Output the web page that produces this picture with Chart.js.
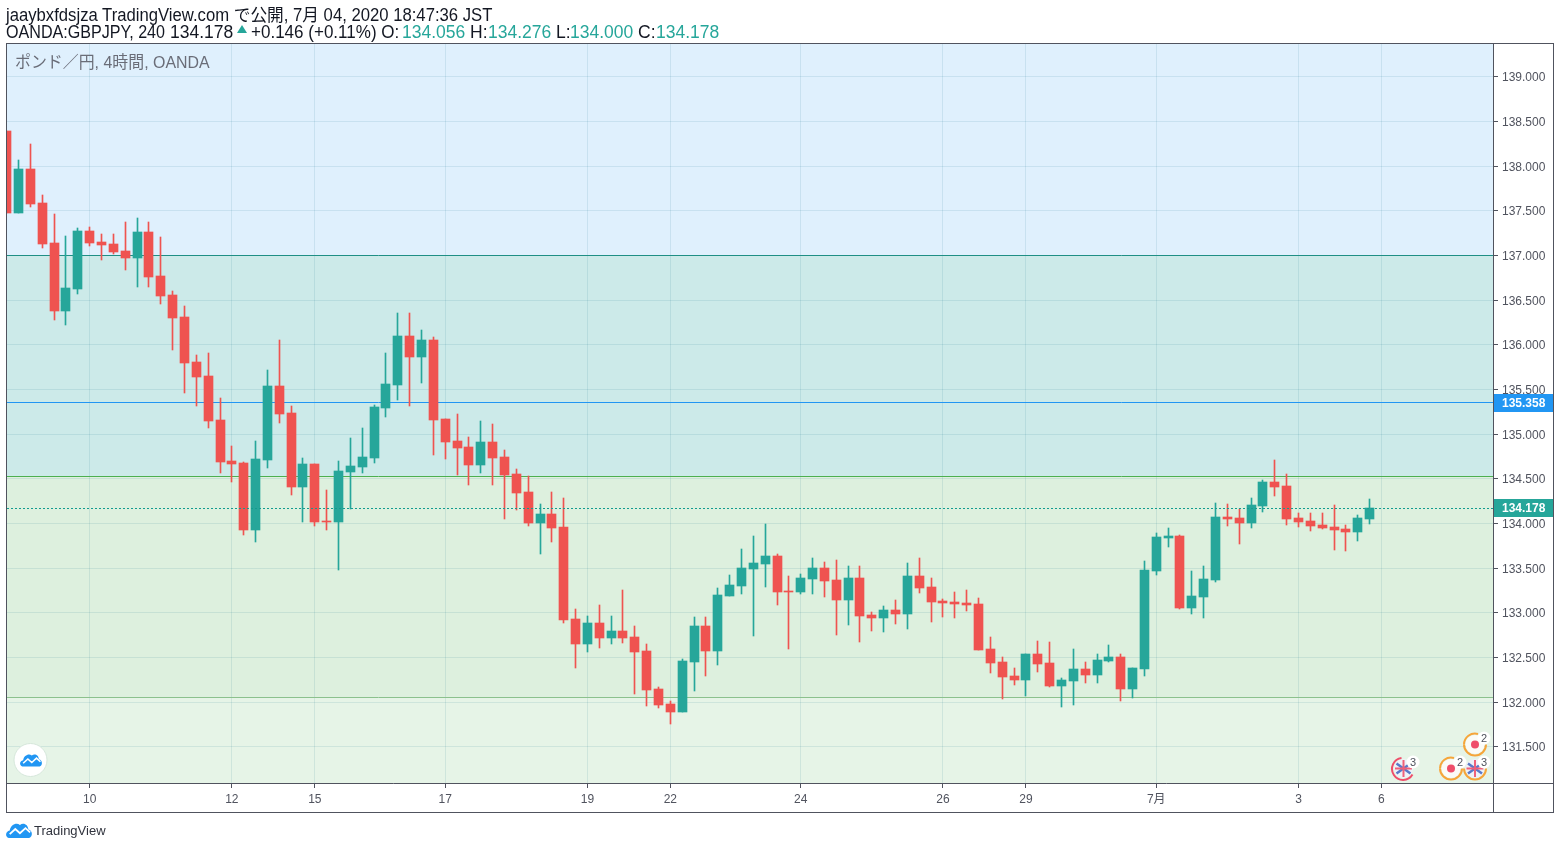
<!DOCTYPE html>
<html lang="ja">
<head>
<meta charset="utf-8">
<title>GBPJPY</title>
<script src="https://cdn.jsdelivr.net/npm/chart.js@4"></script>
<style>
html,body{margin:0;padding:0;background:#fff;overflow:hidden}
#wrap{position:relative;width:1560px;height:849px;overflow:hidden}
canvas{position:absolute;left:0;top:0}
.t{position:absolute;white-space:nowrap;font-family:"Liberation Sans","Noto Sans CJK JP",sans-serif;font-size:17.5px;line-height:18px;color:#131722;transform-origin:0 50%}
.g{color:#26a69a}
svg{position:absolute;left:0;top:0;pointer-events:none}
</style>
</head>
<body>
<div id="wrap">
<canvas id="c" width="1560" height="849"></canvas>
<div class="t" style="left:6px;top:6px;transform:scaleX(0.953)">jaaybxfdsjza TradingView.com で公開, 7月 04, 2020 18:47:36 JST</div>
<div class="t" style="left:6px;top:23px;transform:scaleX(0.92)">OANDA:GBPJPY, 240</div>
<div class="t" style="left:170px;top:23px">134.178</div>
<div class="t" style="left:251px;top:23px;transform:scaleX(0.973)">+0.146 (+0.11%) O:</div>
<div class="t g" style="left:402px;top:23px">134.056</div>
<div class="t" style="left:470px;top:23px">H:</div>
<div class="t g" style="left:488px;top:23px">134.276</div>
<div class="t" style="left:556px;top:23px">L:</div>
<div class="t g" style="left:570px;top:23px">134.000</div>
<div class="t" style="left:638px;top:23px">C:</div>
<div class="t g" style="left:656px;top:23px">134.178</div>
<div class="t" style="left:15px;top:53px;color:#6a6d78;font-size:16.5px;transform:scaleX(0.965)">ポンド／円, 4時間, OANDA</div>
<div class="t" style="left:34px;top:822px;font-size:13px;color:#30333d">TradingView</div>
<svg width="1560" height="849" viewBox="0 0 1560 849" xmlns="http://www.w3.org/2000/svg">
  <defs>
    <symbol id="cloud" viewBox="0 0 28 17" overflow="visible">
      <path d="M3 17 C-1 16 -1 10 4 9 C5 3 11 0 15 3 C19 0 24 3 24 8 C29 9 29 16 25 17 Z" fill="#2196f3"/>
      <path d="M4 13 L10 7.5 L15 12 L21 6.5 L26 11" fill="none" stroke="#fff" stroke-width="2"/>
    </symbol>
    <clipPath id="plotClip"><rect x="7" y="44" width="1486" height="739"/></clipPath>
    <g id="uk">
      <circle r="9.5" fill="#eef1f8"/>
      <path d="M-7 -5 L7 5 M-7 5 L7 -5" stroke="#5a78c8" stroke-width="2.5"/>
      <path d="M-8.5 0 H8.5 M0 -8.5 V8.5" stroke="#f0607a" stroke-width="2"/>
    </g>
    <g id="dot">
      <circle r="9.5" fill="#fbfbf7"/>
      <circle r="4" fill="#ef4d6a"/>
    </g>
  </defs>
  <polygon points="237,33 247,33 242,25" fill="#26a69a"/>
  <circle cx="30.5" cy="760" r="16.5" fill="#fff" stroke="#d5e6da"/>
  <use href="#cloud" x="20" y="753" width="22" height="13.5"/>
  <use href="#cloud" x="6" y="822" width="26" height="16"/>
  <g clip-path="url(#plotClip)">
    <g transform="translate(1403.5,768.5)"><use href="#uk"/><path d="M-2 -10.5 A11 11 0 1 0 9 6" fill="none" stroke="#ef4d6a" stroke-width="2"/></g>
    <g transform="translate(1451,768.5)"><use href="#dot"/><path d="M-11 0 A11 11 0 0 0 11 0" fill="none" stroke="#f6a53a" stroke-width="2"/><path d="M-11 0 A11 11 0 0 1 3 -10.5" fill="none" stroke="#f6a53a" stroke-width="2"/></g>
    <g transform="translate(1475,768.5)"><use href="#uk"/><path d="M-11 0 A11 11 0 0 0 11 0" fill="none" stroke="#f6a53a" stroke-width="2"/></g>
    <g transform="translate(1475,744.5)"><use href="#dot"/><path d="M-11 0 A11 11 0 0 0 11 0" fill="none" stroke="#f6a53a" stroke-width="2"/><path d="M-11 0 A11 11 0 0 1 3 -10.5" fill="none" stroke="#f6a53a" stroke-width="2"/></g>
    <g font-family="Liberation Sans" font-size="11" fill="#50535e" text-anchor="middle">
      <circle cx="1413" cy="762" r="6.5" fill="#fff"/><text x="1413" y="766">3</text>
      <circle cx="1460" cy="762" r="6.5" fill="#fff"/><text x="1460" y="766">2</text>
      <circle cx="1484" cy="762" r="6.5" fill="#fff"/><text x="1484" y="766">3</text>
      <circle cx="1484" cy="738" r="6.5" fill="#fff"/><text x="1484" y="742">2</text>
    </g>
  </g>
</svg>
</div>
<script>
const opens=[138.396,137.478,137.970,137.590,137.142,136.381,136.627,137.276,137.153,137.131,137.052,136.974,137.265,136.772,136.560,136.318,135.813,135.656,135.163,134.703,134.680,133.929,134.714,135.544,135.241,134.411,134.669,134.030,134.019,134.579,134.636,134.736,135.297,135.555,136.105,135.869,136.060,135.174,134.927,134.860,134.658,134.916,134.748,134.557,134.355,134.007,134.108,133.959,132.929,132.649,132.884,132.716,132.795,132.728,132.571,132.146,131.978,131.888,132.448,132.851,132.571,133.187,133.299,133.489,133.545,133.634,133.242,133.231,133.377,133.500,133.366,133.142,133.388,132.974,132.940,133.030,132.985,133.410,133.287,133.131,133.119,133.108,133.097,132.593,132.448,132.291,132.246,132.537,132.437,132.179,132.235,132.369,132.302,132.459,132.504,132.146,132.369,133.466,133.836,133.858,133.052,133.175,133.366,134.071,134.060,134.004,134.194,134.463,134.418,134.060,134.026,133.981,133.959,133.937,133.903,134.056];
const highs=[138.396,138.071,138.250,137.679,137.466,137.220,137.310,137.321,137.243,137.243,137.377,137.422,137.377,137.209,136.604,136.437,135.892,135.914,135.409,134.871,134.692,134.927,135.723,136.060,135.320,134.736,134.669,134.378,134.703,134.961,135.073,135.331,135.914,136.363,136.352,136.172,136.093,135.174,135.230,134.972,135.151,135.118,134.826,134.613,134.535,134.220,134.355,134.288,133.041,132.963,133.086,132.963,133.254,132.851,132.649,132.168,132.011,132.481,132.951,132.951,133.276,133.422,133.713,133.858,133.993,133.657,133.410,133.433,133.612,133.567,133.590,133.522,133.522,133.007,133.075,133.142,133.556,133.612,133.388,133.153,133.231,133.254,133.164,132.728,132.504,132.381,132.537,132.683,132.672,132.269,132.593,132.448,132.537,132.638,132.537,132.381,133.578,133.892,133.948,133.869,133.466,133.522,134.228,134.216,134.160,134.284,134.485,134.709,134.552,134.116,134.116,134.116,134.205,133.981,134.093,134.276];
const lows=[137.478,137.478,137.545,137.086,136.280,136.224,136.571,137.108,136.951,137.019,136.840,136.649,136.649,136.459,135.948,135.465,135.320,135.073,134.568,134.467,133.873,133.794,134.624,135.129,134.321,134.019,133.974,133.929,133.480,134.164,134.568,134.680,135.196,135.387,135.320,135.578,134.770,134.725,134.546,134.434,134.568,134.434,134.052,134.153,133.974,133.657,133.791,132.884,132.381,132.560,132.604,132.649,132.660,132.090,131.955,131.933,131.754,131.888,132.123,132.291,132.414,133.187,133.209,132.739,133.287,133.086,132.593,133.209,133.209,133.175,132.750,132.862,132.672,132.795,132.784,132.873,132.817,133.220,132.896,132.951,132.940,133.019,132.582,132.325,132.034,132.190,132.067,132.336,132.168,131.944,131.966,132.213,132.213,132.448,132.011,132.045,132.291,133.422,133.735,133.041,132.985,132.940,133.343,133.970,133.769,133.948,134.127,134.306,133.981,133.959,133.914,133.937,133.701,133.690,133.802,134.000];
const closes=[137.478,137.970,137.578,137.130,136.381,136.638,137.276,137.142,137.119,137.041,136.974,137.265,136.761,136.549,136.307,135.802,135.645,135.151,134.692,134.669,133.929,134.725,135.544,135.230,134.411,134.669,134.019,134.019,134.591,134.647,134.748,135.308,135.566,136.105,135.869,136.060,135.163,134.916,134.849,134.658,134.916,134.736,134.546,134.344,134.007,134.108,133.952,132.918,132.649,132.884,132.716,132.795,132.716,132.560,132.134,131.966,131.888,132.459,132.851,132.571,133.198,133.310,133.500,133.556,133.634,133.231,133.231,133.388,133.500,133.354,133.142,133.388,132.963,132.940,133.030,132.985,133.410,133.276,133.119,133.108,133.097,133.086,132.582,132.437,132.280,132.246,132.537,132.425,132.179,132.246,132.369,132.302,132.470,132.504,132.146,132.381,133.478,133.847,133.858,133.052,133.187,133.377,134.071,134.049,134.004,134.205,134.463,134.407,134.049,134.015,133.970,133.948,133.925,133.903,134.060,134.178];
const xTickIndex=[7,19,26,37,49,56,67,79,86,97,109,116];
const xTickLabels=["10","12","15","17","19","22","24","26","29","7月","3","6"];
const yTickValues=[131.5,132,132.5,133,133.5,134,134.5,135,135.5,136,136.5,137,137.5,138,138.5,139];
const lineResistance=137.0;
const lineBlue=135.358;
const lineGreen=134.531;
const lineSupport=132.055;
const lastClose=134.178;

const UP='#26a69a',DOWN='#ef5350';
const FONT='"Liberation Sans","Noto Sans CJK JP",sans-serif';
const XMIN=0.025,XMAX=125.414;
const hline=(v,color,order,dash)=>({type:'line',order,data:[{x:XMIN,y:v},{x:XMAX,y:v}],borderColor:color,borderWidth:1,borderDash:dash||[],pointRadius:0,fill:false,tension:0});
const candleColors=opens.map((o,i)=>closes[i]>=o?UP:DOWN);

const pricePlugin={
  id:'tv',
  afterDatasetsUpdate(chart){
    chart.data.datasets.forEach((d,di)=>{
      const meta=chart.getDatasetMeta(di);
      if(d.type==='line'){
        meta.data.forEach(el=>{el.y=Math.floor(el.y+0.35)+0.5;});
        return;
      }
      meta.data.forEach(el=>{
        el.x=Math.floor(el.x)+0.5;
        let y=Math.round(el.y),b=Math.round(el.base);
        if(y===b)b=y+1;
        el.y=y;el.base=b;
      });
    });
  },
  beforeDraw(chart){
    const {ctx,chartArea:a,scales:{y}}=chart;
    const stops=[[a.top,y.getPixelForValue(lineResistance),'#dff0fd'],
      [y.getPixelForValue(lineResistance),y.getPixelForValue(lineGreen),'#cceae9'],
      [y.getPixelForValue(lineGreen),y.getPixelForValue(lineSupport),'#ddf0de'],
      [y.getPixelForValue(lineSupport),a.bottom,'#e6f4e7']];
    ctx.save();
    stops.forEach(s=>{
      const t=Math.floor(s[0]),b=Math.floor(s[1]);
      ctx.fillStyle=s[2];ctx.fillRect(a.left,t,a.right-a.left,b-t);
    });
    ctx.restore();
    y.getLabelItems().forEach(it=>{
      if(!it._moved){it._moved=true;it.options.translation[1]=Math.floor(it.options.translation[1])+1.5;}
    });
  },
  afterDraw(chart){
    const {ctx,chartArea:a,scales:{y}}=chart;
    ctx.save();
    const tag=(v,bg)=>{
      const p=Math.round(y.getPixelForValue(v)+0.3);
      ctx.fillStyle=bg;ctx.fillRect(a.right,p-9,60,18);
      ctx.fillStyle='#fff';ctx.font='bold 12px '+FONT;ctx.textAlign='left';ctx.textBaseline='middle';
      ctx.fillText(v.toFixed(3),a.right+9,p+1);
    };
    tag(lineBlue,'#2196f3');
    tag(lastClose,UP);
    ctx.strokeStyle='#50535e';ctx.lineWidth=1;
    ctx.strokeRect(6.5,43.5,1547,769);
    ctx.beginPath();
    ctx.moveTo(6.5,783.5);ctx.lineTo(1553.5,783.5);
    ctx.moveTo(1493.5,43.5);ctx.lineTo(1493.5,812.5);
    ctx.stroke();
    ctx.restore();
  }
};

new Chart(document.getElementById('c'),{
  data:{datasets:[
    hline(lineResistance,'#1f8f85',3),
    hline(lineBlue,'#2196f3',3),
    hline(lineGreen,'#4caf50',3),
    hline(lineSupport,'#8bc18d',3),
    hline(lastClose,'#139c8f',0,[2,2]),
    {type:'bar',order:1,grouped:false,barThickness:9,data:opens.map((o,i)=>({x:i,y:[o,closes[i]]})),backgroundColor:candleColors,borderWidth:0},
    {type:'bar',order:2,grouped:false,barThickness:1,data:lows.map((l,i)=>({x:i,y:[l,highs[i]]})),backgroundColor:candleColors,borderWidth:0}
  ]},
  options:{
    responsive:false,animation:false,
    layout:{padding:{left:7,top:44,right:7,bottom:37}},
    plugins:{legend:{display:false},tooltip:{enabled:false}},
    scales:{
      x:{type:'linear',offset:false,min:XMIN,max:XMAX,
        afterBuildTicks(s){s.ticks=xTickIndex.map(v=>({value:v}));},
        afterFit(s){s.height=29;},
        border:{display:false},
        grid:{offset:false,color:'rgba(0,100,130,0.1)',tickColor:'#50535e',tickLength:5,lineWidth:1,drawOnChartArea:true},
        ticks:{autoSkip:false,maxRotation:0,includeBounds:false,padding:4,color:'#50535e',font:{family:FONT,size:12},
          callback(v){const i=xTickIndex.indexOf(v);return i<0?'':xTickLabels[i];}}
      },
      y:{type:'linear',position:'right',min:131.096,max:139.369,
        afterBuildTicks(s){s.ticks=yTickValues.map(v=>({value:v}));},
        afterFit(s){s.width=60;},
        border:{display:false},
        grid:{color:'rgba(0,100,130,0.1)',tickColor:'#50535e',tickLength:5,lineWidth:1},
        ticks:{autoSkip:false,padding:4,color:'#50535e',font:{family:FONT,size:12},
          callback(v){return Number(v).toFixed(3);}}
      }
    }
  },
  plugins:[pricePlugin]
});
</script>
</body>
</html>
